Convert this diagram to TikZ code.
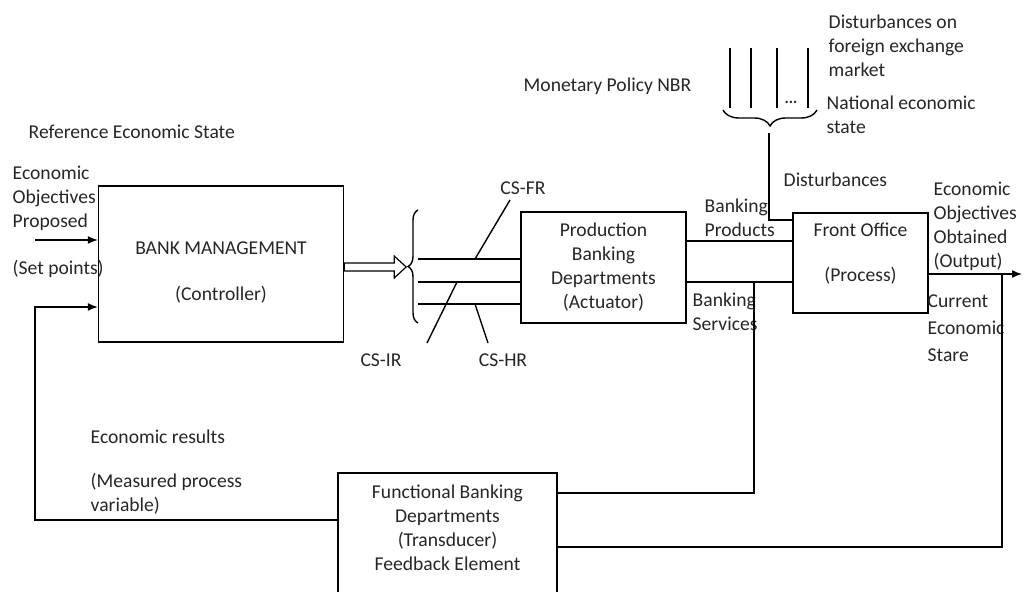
\documentclass[tikz,border=0pt]{standalone}
\usepackage{fontspec}
\setmainfont{Carlito}
\usetikzlibrary{arrows.meta, positioning, calc, decorations.pathreplacing}

\begin{document}
\begin{tikzpicture}[x=0.5pt, y=-0.5pt, line width=0.7pt,
    >={Latex[length=5pt, width=4pt]},
    font=\fontsize{9.8}{12}\selectfont,
    block/.style={draw, rectangle, inner sep=0pt},
    txt/.style={inner sep=0pt, align=left, anchor=west, text=black!85},
    ctxt/.style={inner sep=0pt, align=center, text=black!85}]
    \useasboundingbox (0,0) rectangle (1024,592);
    \clip (0,0) rectangle (1024,592);

    % blocks
    \node[block, minimum width=122.5pt, minimum height=78pt] (bank) at (221,264) {};
    \node[block, minimum width=82.5pt, minimum height=55.5pt] (prod) at (603.5,267.5) {};
    \node[block, minimum width=67.5pt, minimum height=50pt] (front) at (860.5,263) {};
    \node[block, minimum width=109.5pt, minimum height=65pt] (func) at (447.5,538) {};

    \node[ctxt] (bankT) at (221,273) {BANK MANAGEMENT\\[11pt](Controller)};
    \node[ctxt] (prodT) at (prod) {Production\\Banking\\Departments\\(Actuator)};
    \node[ctxt] (frontT) at (860.5,253.5) {Front Office\\[10.5pt](Process)};
    \node[ctxt] (funcT) at (447.5,527.5) {Functional Banking\\Departments\\(Transducer)\\Feedback Element};

    % labels
    \node[txt] (refL) at (28,132) {Reference Economic State};
    \node[txt] (setL) at (12,198) {Economic\\Objectives\\Proposed};
    \node[txt] (spL) at (12,269) {(Set points)};
    \node[txt] (nbrL) at (523,86) {Monetary Policy NBR};
    \node[txt] (fxL) at (828,46) {Disturbances on\\foreign exchange\\market};
    \node[txt] (natL) at (826,115) {National economic\\state};
    \node[txt] (distL) at (783,180) {Disturbances};
    \node[txt] (prdL) at (704,217.5) {Banking\\Products};
    \node[txt] (srvL) at (692,312) {Banking\\Services};
    \node[txt] (outL) at (933,226) {Economic\\Objectives\\Obtained\\(Output)};
    \node[txt, align=left] (curL) at (927,328.5) {Current\\[1.5pt]Economic\\[1.5pt]Stare};
    \node[txt] (resL) at (90,437) {Economic results};
    \node[txt] (measL) at (90,494) {(Measured process\\variable)};
    \node[ctxt] (fr) at (523,188) {CS-FR};
    \node[ctxt] (ir) at (381,360) {CS-IR};
    \node[ctxt] (hr) at (503,360) {CS-HR};

    % inputs of the controller
    \coordinate (in1) at (35,240);
    \coordinate (fb) at (35,307);
    \coordinate (fbLow) at (35,520);
    \draw[->] (in1) -- (bank.west |- in1);
    \draw[->] (func.west |- fbLow) -- (fbLow) -- (fb) -- (bank.west |- fb);

    % control signals
    \draw[line width=0.6pt] ($(bank.east)+(0,-1)$) -- ++(50,0) -- ++(0,-7)
        -- ++(12,11) -- ++(-12,11) -- ++(0,-7) -- ++(-50,0) -- cycle;
    \draw[decorate, decoration={brace, amplitude=5pt}] (418,323) -- (418,210);
    \foreach \y/\n in {259/a, 282/b, 304/c}{
        \coordinate (cs\n) at (418,\y);
        \draw (cs\n) -- (prod.west |- cs\n);
    }
    \draw ($(csa)+(57,0)$) -- (510,200);
    \draw ($(csb)+(39,0)$) -- (427,343);
    \draw ($(csc)+(57,0)$) -- (488,343);

    % products and services
    \coordinate (pp) at (686,241);
    \coordinate (ss) at (686,282);
    \draw (pp) -- (front.west |- pp);
    \draw (ss) -- (front.west |- ss);

    % disturbances
    \foreach \x in {730, 751, 777, 808}
        \draw (\x,48) -- (\x,108);
    \node[ctxt, font=\fontsize{8}{8}\selectfont\bfseries] (dots) at (791,102) {...};
    \draw[decorate, decoration={brace, amplitude=8pt}] (817,110) -- (723,110);
    \coordinate (dTop) at (769,133);
    \draw (dTop) |- (front.west |- 0,220);

    % output and measurement
    \coordinate (outEnd) at (1022,274);
    \coordinate (tap) at (1002,274);
    \draw[->] (front.east |- tap) -- (outEnd);
    \draw (tap) |- (func.east |- 0,547);
    \draw (754,282) |- (func.east |- 0,493);
\end{tikzpicture}
\end{document}
